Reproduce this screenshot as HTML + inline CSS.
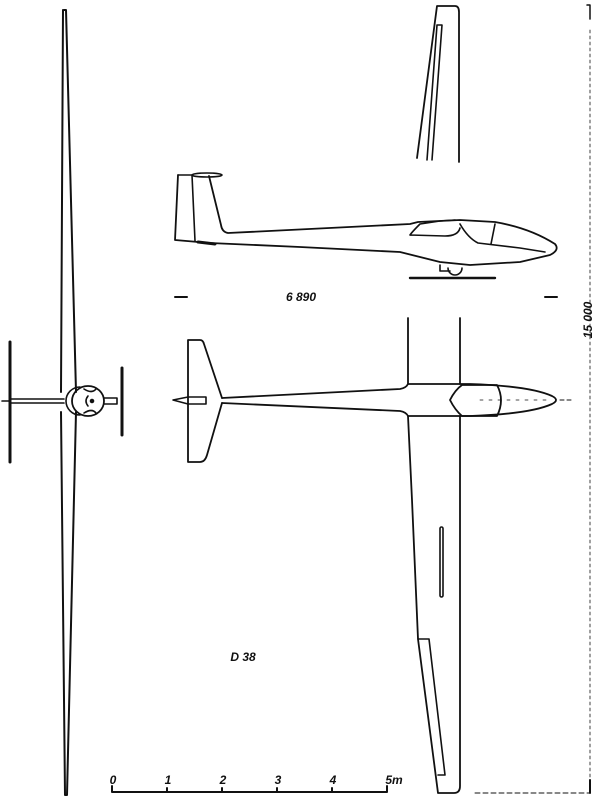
<!DOCTYPE html>
<html><head><style>body{margin:0;background:#fff}svg{display:block}</style></head>
<body>
<svg width="600" height="800" viewBox="0 0 600 800" xmlns="http://www.w3.org/2000/svg" fill="none" stroke="#111" stroke-width="1.6" stroke-linejoin="round" stroke-linecap="round">
<!-- front view wing -->
<path d="M64,10 L66,10 L76,392 M76,412 L67,795 L65,795 L61,412 M61,392 L63,10" stroke-width="2"/>
<!-- front view stab & tail -->
<path d="M10,342 L10,462" stroke-width="3"/>
<path d="M2,401 L10,401 M11,399 L64,399 M11,403 L64,403" />
<path d="M122,368 L122,435" stroke-width="3"/>
<path d="M104,398 L117,398 L117,404 L104,404" />
<ellipse cx="88" cy="401" rx="16" ry="15" stroke-width="1.8"/>
<path d="M80,387 A14,14 0 0 0 80,415" />
<path d="M84,389 Q92,394 96,389 M84,413 Q92,408 96,413 M88,396 Q84,401 88,406"/>
<circle cx="92" cy="401" r="1.5" fill="#111"/>
<!-- side view -->
<path d="M178,175 L175,240 L210,243 L300,247 L400,252 L440,262 L470,265 L520,262 L550,255 Q560,250 555,244 Q530,228 495,222 L460,220 L418,222 L410,224 L228,233 Q222,232 221,225 L209,176" stroke-width="1.8"/>
<path d="M178,175 L192,175 M192,175 L195,241"/>
<ellipse cx="207" cy="175" rx="15" ry="2" />
<path d="M198,242 L215,244" stroke-width="3"/>
<path d="M410,235 Q412,232 420,224 L440,221 L455,220 M410,235 L445,236 Q458,236 460,228 M460,224 Q468,238 478,243 L520,248 L545,252 M495,224 L491,244"/>
<path d="M440,265 L440,271 L450,271 M448,268 A7,7 0 0 0 462,268"/>
<path d="M410,278 L495,278" stroke-width="2.4"/>
<path d="M175,297 L187,297 M545,297 L557,297" stroke-width="2"/>
<text x="301" y="301" font-family="Liberation Sans, sans-serif" font-size="12" font-style="italic" font-weight="bold" fill="#111" stroke="none" text-anchor="middle">6 890</text>
<!-- top view fuselage -->
<path d="M222,398 L400,389 Q406,388 408,384 L470,384 Q530,386 552,396 Q560,400 552,404 Q530,414 470,416 L408,416 Q406,412 400,411 L222,403" stroke-width="1.8"/>
<path d="M188,340 L188,462 M188,340 L200,340 Q203,340 204,344 L222,398 M222,403 L207,455 Q205,462 200,462 L188,462" stroke-width="1.8"/>
<path d="M173,400 L188,397 L206,397 L206,404 L188,404 Z"/>
<path d="M462,385 L497,385 Q505,400 497,416 L462,416 Q455,410 450,400 Q455,390 462,385 Z" stroke-width="1.8"/>
<path d="M560,400 L572,400" stroke-dasharray="4,3" stroke-width="1"/>
<path d="M480,400 L548,400" stroke-dasharray="3,6" stroke-width="0.8"/>
<!-- upper wing top view -->
<path d="M408,384 L408,318 M460,384 L460,318" stroke-width="1.8"/>
<path d="M417,158 L437,6 L455,6 Q459,6 459,12 L459,162" stroke-width="1.8"/>
<path d="M427,160 L437,25 L442,25 L432,160"/>
<!-- lower wing -->
<path d="M408,416 L412,500 L418,639 L438,793 L454,793 Q460,793 460,786 L460,416" stroke-width="1.8"/>
<rect x="440" y="527" width="3" height="70" rx="1.5"/>
<path d="M418,639 L429,639 L445,775 L438,775"/>
<!-- right dimension -->
<path d="M590,30 L590,792" stroke-dasharray="3,3" stroke-width="0.8"/>
<path d="M475,793 L590,793" stroke-dasharray="5,3" stroke-width="0.9"/>
<path d="M587,5 L590,5 L590,19" stroke-width="1.5"/>
<path d="M590,780 L590,793" stroke-width="2"/>
<text x="0" y="0" transform="translate(592,320) rotate(-90)" font-family="Liberation Sans, sans-serif" font-size="12" font-style="italic" font-weight="bold" fill="#111" stroke="none" text-anchor="middle">15 000</text>
<!-- label -->
<text x="243" y="661" font-family="Liberation Sans, sans-serif" font-size="12" font-style="italic" font-weight="bold" fill="#111" stroke="none" text-anchor="middle">D 38</text>
<!-- scale bar -->
<path d="M112,786 L112,792 L387,792 L387,786 M167,788 L167,792 M222,788 L222,792 M277,788 L277,792 M332,788 L332,792" stroke-width="2"/>
<g font-family="Liberation Sans, sans-serif" font-size="12" font-style="italic" font-weight="bold" fill="#111" stroke="none" text-anchor="middle">
<text x="113" y="784">0</text><text x="168" y="784">1</text><text x="223" y="784">2</text><text x="278" y="784">3</text><text x="333" y="784">4</text><text x="394" y="784">5m</text>
</g>
</svg>
</body></html>
